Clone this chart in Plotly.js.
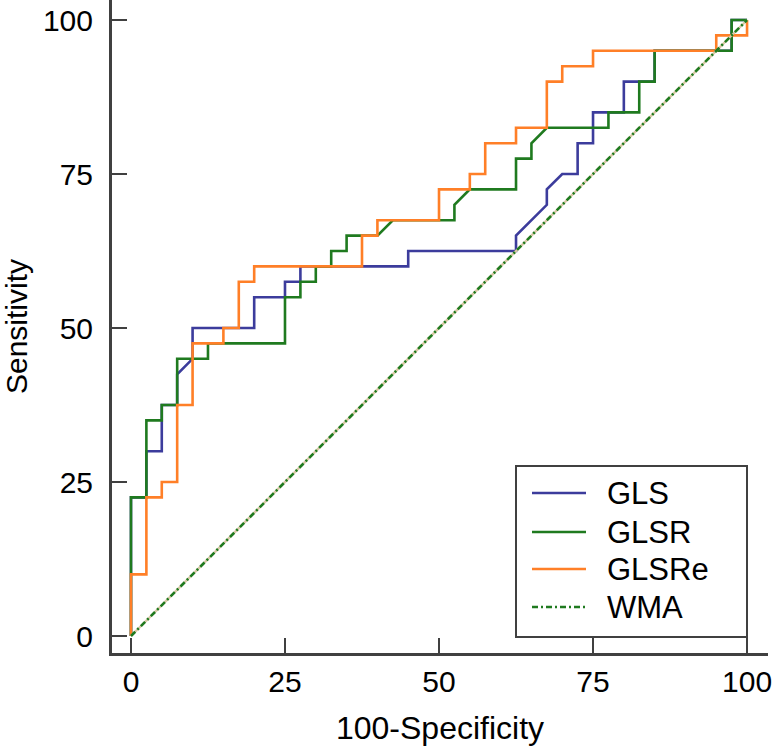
<!DOCTYPE html>
<html>
<head>
<meta charset="utf-8">
<script src="https://cdn.plot.ly/plotly-3.0.1.min.js"></script>
<style>html,body{margin:0;padding:0;background:#fff;}#chart{width:774px;height:749px;}</style>
</head>
<body>
<div id="chart"></div>
<script>
// ROC curves: x = 100-Specificity, y = Sensitivity
var glsX = [0,0,2.5,2.5,5,5,7.5,7.5,10,10,20,20,25,25,27.5,27.5,45,45,62.5,62.5,67.5,67.5,70,72.5,72.5,75,75,80,80,82.5,85,85,97.5,97.5,100];
var glsY = [0,22.5,22.5,30,30,37.5,37.5,42.5,45,50,50,55,55,57.5,57.5,60,60,62.5,62.5,65,70,72.5,75,75,80,80,85,85,90,90,90,95,95,100,100];

var glsrX = [0,0,2.5,2.5,5,5,7.5,7.5,12.5,12.5,25,25,27.5,27.5,30,30,32.5,32.5,35,35,40,42.5,52.5,52.5,55,62.5,62.5,65,65,67.5,77.5,77.5,82.5,82.5,85,85,97.5,97.5,100];
var glsrY = [0,22.5,22.5,35,35,37.5,37.5,45,45,47.5,47.5,55,55,57.5,57.5,60,60,62.5,62.5,65,65,67.5,67.5,70,72.5,72.5,77.5,77.5,80,82.5,82.5,85,85,90,90,95,95,100,100];

var glsreX = [0,0,2.5,2.5,5,5,7.5,7.5,10,10,15,15,17.5,17.5,20,20,37.5,37.5,40,40,50,50,55,55,57.5,57.5,62.5,62.5,67.5,67.5,70,70,75,75,95,95,100,100];
var glsreY = [0,10,10,22.5,22.5,25,25,37.5,37.5,47.5,47.5,50,50,57.5,57.5,60,60,65,65,67.5,67.5,72.5,72.5,75,75,80,80,82.5,82.5,90,90,92.5,92.5,95,95,97.5,97.5,100];

var wmaX = [0,100];
var wmaY = [0,100];

var seriesNames = ['GLS', 'GLSR', 'GLSRe', 'WMA'];
var seriesColors = ['#3c3c9c', '#1f7a1f', '#ff7f27', '#1f7a1f'];
var seriesDash = ['solid', 'solid', 'solid', '6px,3px,2px,3px'];

var tickVals = [0,25,50,75,100];
var tickText = ['0','25','50','75','100'];

var FONT = 'Liberation Sans, Arial, sans-serif';
var AX = '#404040';

var traces = [
  {x: glsX, y: glsY, mode: 'lines', name: seriesNames[0], line: {color: seriesColors[0], width: 2.6}},
  {x: glsrX, y: glsrY, mode: 'lines', name: seriesNames[1], line: {color: seriesColors[1], width: 2.6}},
  {x: glsreX, y: glsreY, mode: 'lines', name: seriesNames[2], line: {color: seriesColors[2], width: 2.6}},
  {x: wmaX, y: wmaY, mode: 'lines', name: 'WMA-base', hoverinfo: 'skip', line: {color: '#d8c8a6', width: 2.4}},
  {x: wmaX, y: wmaY, mode: 'lines', name: seriesNames[3], line: {color: seriesColors[3], width: 2.6, dash: seriesDash[3]}}
];

// Legend drawn in paper coordinates (plot area: 112..768 px wide, 0..653 px tall)
var L = 112, W = 656, H = 653;
function px(v) { return (v - L) / W; }
function py(v) { return (H - v) / H; }

var shapes = [{
  type: 'rect', xref: 'paper', yref: 'paper',
  x0: px(516), x1: px(747), y0: py(637), y1: py(466),
  line: {color: AX, width: 2}, fillcolor: '#fff', layer: 'above'
}];
var annotations = [];
var rowY = [493, 532, 569, 607];
for (var i = 0; i < seriesNames.length; i++) {
  shapes.push({
    type: 'line', xref: 'paper', yref: 'paper',
    x0: px(532), x1: px(586), y0: py(rowY[i]), y1: py(rowY[i]),
    line: {color: seriesColors[i], width: 2.6, dash: seriesDash[i]}, layer: 'above'
  });
  annotations.push({
    xref: 'paper', yref: 'paper', x: px(605), y: py(rowY[i]),
    xanchor: 'left', yanchor: 'middle', showarrow: false,
    text: seriesNames[i], font: {family: FONT, size: 31, color: '#000'}
  });
}

var axisCommon = {
  showgrid: false, zeroline: false, showline: true, linewidth: 3, linecolor: AX,
  ticks: 'inside', ticklen: 15, tickwidth: 2, tickcolor: AX,
  tickvals: tickVals, ticktext: tickText,
  tickfont: {family: FONT, size: 30, color: '#000'},
  fixedrange: true
};

var layout = {
  width: 774, height: 749,
  margin: {l: 112, r: 6, t: 0, b: 96, pad: 0},
  paper_bgcolor: '#fff', plot_bgcolor: '#fff',
  font: {family: FONT, size: 30, color: '#000'},
  showlegend: false,
  xaxis: Object.assign({}, axisCommon, {
    range: [-3.08, 103.4],
    title: {text: '100-Specificity', font: {family: FONT, size: 32, color: '#000'}, standoff: 20}
  }),
  yaxis: Object.assign({}, axisCommon, {
    range: [-2.76, 103.25],
    ticklabelstandoff: 10,
    title: {text: 'Sensitivity', font: {family: FONT, size: 30, color: '#000'}, standoff: 15}
  }),
  shapes: shapes,
  annotations: annotations
};

Plotly.newPlot('chart', traces, layout, {displayModeBar: false, staticPlot: true});
</script>
</body>
</html>
